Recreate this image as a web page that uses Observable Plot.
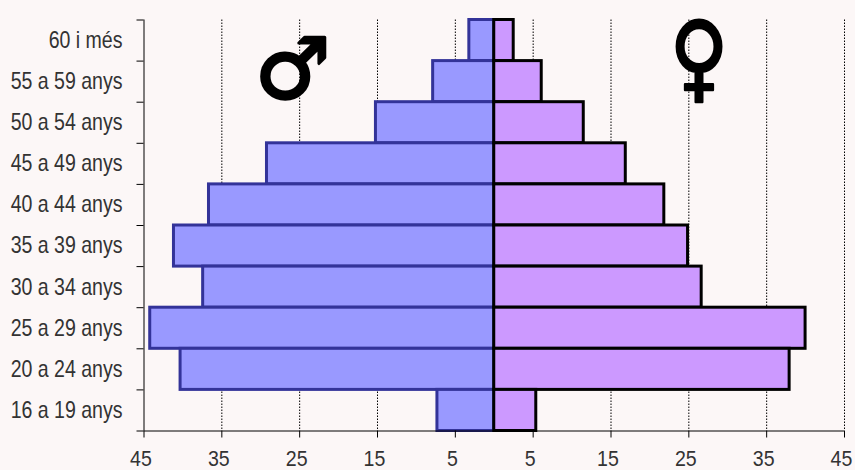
<!DOCTYPE html>
<html>
<head>
<meta charset="utf-8">
<script src="https://cdn.jsdelivr.net/npm/d3@7"></script>
<script src="https://cdn.jsdelivr.net/npm/@observablehq/plot@0.6"></script>
<style>
html,body{margin:0;padding:0;background:#fcf7f7;overflow:hidden}
svg{display:block}
</style>
</head>
<body>
<div id="chart"></div>
<script>
const ageGroups = ["60 i més","55 a 59 anys","50 a 54 anys","45 a 49 anys","40 a 44 anys","35 a 39 anys","30 a 34 anys","25 a 29 anys","20 a 24 anys","16 a 19 anys"];
const male = [3.2,7.85,15.2,29.2,36.65,41.15,37.4,44.2,40.3,7.3];
const female = [2.5,6.1,11.5,16.9,21.85,24.9,26.65,40,37.95,5.4];
const xTicks = [-45,-35,-25,-15,-5,5,15,25,35,45];
const gridTicks = [-35,-25,-15,-5,5,15,25,35,45];
const bandEdges = [0,1,2,3,4,5,6,7,8,9,10];
const labelPos = ageGroups.map((_, i) => i + 0.5);
const labelFont = "'Liberation Sans', Arial, sans-serif";

const chart = Plot.plot({
  width: 855, height: 470,
  marginLeft: 143.5, marginRight: 11, marginTop: 19.5, marginBottom: 39.5,
  style: {background: "#fcf7f7", fontFamily: labelFont, color: "#333"},
  x: {domain: [-45, 45], axis: null},
  y: {domain: [0, 10], reverse: true, axis: null},
  marks: [
    Plot.ruleX(gridTicks, {stroke: "#000", strokeWidth: 1, strokeDasharray: "1.5,1.5"}),
    Plot.text(["♂"], {x: -25.9, y: 1.25, fontSize: 84, fill: "#000", stroke: "#000", strokeWidth: 3, fontFamily: "'DejaVu Sans'"}),
    Plot.text(["♀"], {x: 26.3, y: 0.95, fontSize: 80, fill: "#000", stroke: "#000", strokeWidth: 2, fontFamily: "'DejaVu Sans'", className: "symF"}),
    Plot.rectX(ageGroups, {x1: 0, x2: (d, i) => -male[i], y1: (d, i) => i, y2: (d, i) => i + 1, fill: "#9999ff", stroke: "#333399", strokeWidth: 3}),
    Plot.rectX(ageGroups, {x1: 0, x2: (d, i) => female[i], y1: (d, i) => i, y2: (d, i) => i + 1, fill: "#cc99ff", stroke: "#000", strokeWidth: 3}),
    Plot.axisY(bandEdges, {anchor: "left", tickSize: 7, tickFormat: () => "", stroke: "#000", strokeWidth: 1, label: null}),
    Plot.ruleX([-45], {stroke: "#000", strokeWidth: 1}),
    Plot.ruleY([10], {stroke: "#000", strokeWidth: 1}),
    Plot.axisX(xTicks, {anchor: "bottom", tickSize: 7, tickFormat: () => "", stroke: "#000", label: null}),
    Plot.text(xTicks, {x: d => d, y: 10, text: d => String(Math.abs(d)), dx: -3, dy: 27.7, fill: "#333", fontSize: 22, className: "narrowX"}),
    Plot.text(labelPos, {x: -45, y: d => d, text: (d, i) => ageGroups[i], textAnchor: "end", dx: -21.5, dy: 0, fill: "#333", fontSize: 23, className: "narrow"})
  ]
});
// Condense the labels horizontally and stretch the female symbol, on top of Plot's own placement
const rescale = (selector, sx, sy) => chart.querySelectorAll(selector).forEach(t => {
  t.setAttribute("transform", (t.getAttribute("transform") || "") + ` scale(${sx},${sy})`);
});
rescale(".narrow text", 0.85, 1);
rescale(".narrowX text", 0.89, 1);
rescale(".symF text", 1, 1.2);
document.getElementById("chart").append(chart);
</script>
</body>
</html>
